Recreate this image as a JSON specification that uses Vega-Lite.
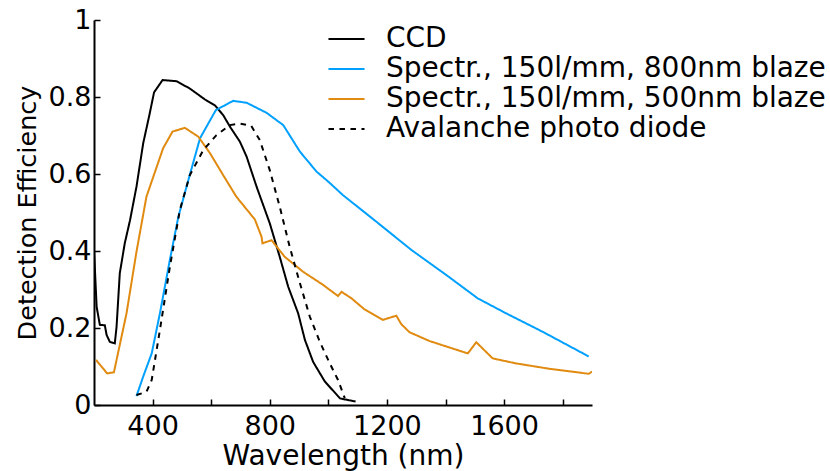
{
  "$schema": "https://vega.github.io/schema/vega-lite/v6.json",
  "width": 498,
  "height": 385,
  "autosize": "none",
  "padding": {"left": 94, "top": 20, "right": 238, "bottom": 66},
  "background": "white",
  "config": {
    "view": {"stroke": null},
    "font": "DejaVu Sans",
    "axis": {"grid": false, "domainColor": "black", "domainWidth": 2, "tickColor": "black", "tickWidth": 1.5, "tickSize": -6, "labelFontSize": 27, "labelColor": "black", "titleFontSize": 27, "titleFontWeight": "normal", "titleColor": "black", "labelFont": "DejaVu Sans", "titleFont": "DejaVu Sans"}
  },
  "data": {"values": [
    {"s": "CCD", "wl": 200, "v": 0.403},
    {"s": "CCD", "wl": 209, "v": 0.255},
    {"s": "CCD", "wl": 220, "v": 0.208},
    {"s": "CCD", "wl": 237, "v": 0.207},
    {"s": "CCD", "wl": 243, "v": 0.182},
    {"s": "CCD", "wl": 254, "v": 0.164},
    {"s": "CCD", "wl": 271, "v": 0.160},
    {"s": "CCD", "wl": 277, "v": 0.203},
    {"s": "CCD", "wl": 288, "v": 0.342},
    {"s": "CCD", "wl": 305, "v": 0.42},
    {"s": "CCD", "wl": 323, "v": 0.48},
    {"s": "CCD", "wl": 345, "v": 0.567},
    {"s": "CCD", "wl": 368, "v": 0.68},
    {"s": "CCD", "wl": 389, "v": 0.753},
    {"s": "CCD", "wl": 405, "v": 0.812},
    {"s": "CCD", "wl": 434, "v": 0.844},
    {"s": "CCD", "wl": 482, "v": 0.841},
    {"s": "CCD", "wl": 527, "v": 0.822},
    {"s": "CCD", "wl": 578, "v": 0.794},
    {"s": "CCD", "wl": 613, "v": 0.778},
    {"s": "CCD", "wl": 641, "v": 0.753},
    {"s": "CCD", "wl": 664, "v": 0.723},
    {"s": "CCD", "wl": 698, "v": 0.684},
    {"s": "CCD", "wl": 721, "v": 0.645},
    {"s": "CCD", "wl": 755, "v": 0.567},
    {"s": "CCD", "wl": 800, "v": 0.472},
    {"s": "CCD", "wl": 834, "v": 0.385},
    {"s": "CCD", "wl": 863, "v": 0.307},
    {"s": "CCD", "wl": 897, "v": 0.238},
    {"s": "CCD", "wl": 920, "v": 0.169},
    {"s": "CCD", "wl": 948, "v": 0.112},
    {"s": "CCD", "wl": 988, "v": 0.061},
    {"s": "CCD", "wl": 1040, "v": 0.017},
    {"s": "CCD", "wl": 1093, "v": 0.009},

    {"s": "Spectr., 150l/mm, 800nm blaze", "wl": 345, "v": 0.023},
    {"s": "Spectr., 150l/mm, 800nm blaze", "wl": 368, "v": 0.074},
    {"s": "Spectr., 150l/mm, 800nm blaze", "wl": 397, "v": 0.134},
    {"s": "Spectr., 150l/mm, 800nm blaze", "wl": 425, "v": 0.238},
    {"s": "Spectr., 150l/mm, 800nm blaze", "wl": 459, "v": 0.377},
    {"s": "Spectr., 150l/mm, 800nm blaze", "wl": 488, "v": 0.489},
    {"s": "Spectr., 150l/mm, 800nm blaze", "wl": 522, "v": 0.584},
    {"s": "Spectr., 150l/mm, 800nm blaze", "wl": 562, "v": 0.693},
    {"s": "Spectr., 150l/mm, 800nm blaze", "wl": 616, "v": 0.766},
    {"s": "Spectr., 150l/mm, 800nm blaze", "wl": 675, "v": 0.79},
    {"s": "Spectr., 150l/mm, 800nm blaze", "wl": 721, "v": 0.785},
    {"s": "Spectr., 150l/mm, 800nm blaze", "wl": 789, "v": 0.759},
    {"s": "Spectr., 150l/mm, 800nm blaze", "wl": 846, "v": 0.727},
    {"s": "Spectr., 150l/mm, 800nm blaze", "wl": 903, "v": 0.658},
    {"s": "Spectr., 150l/mm, 800nm blaze", "wl": 960, "v": 0.606},
    {"s": "Spectr., 150l/mm, 800nm blaze", "wl": 1000, "v": 0.58},
    {"s": "Spectr., 150l/mm, 800nm blaze", "wl": 1050, "v": 0.545},
    {"s": "Spectr., 150l/mm, 800nm blaze", "wl": 1164, "v": 0.476},
    {"s": "Spectr., 150l/mm, 800nm blaze", "wl": 1283, "v": 0.403},
    {"s": "Spectr., 150l/mm, 800nm blaze", "wl": 1402, "v": 0.338},
    {"s": "Spectr., 150l/mm, 800nm blaze", "wl": 1510, "v": 0.277},
    {"s": "Spectr., 150l/mm, 800nm blaze", "wl": 1607, "v": 0.238},
    {"s": "Spectr., 150l/mm, 800nm blaze", "wl": 1732, "v": 0.19},
    {"s": "Spectr., 150l/mm, 800nm blaze", "wl": 1889, "v": 0.126},

    {"s": "Spectr., 150l/mm, 500nm blaze", "wl": 207, "v": 0.117},
    {"s": "Spectr., 150l/mm, 500nm blaze", "wl": 245, "v": 0.082},
    {"s": "Spectr., 150l/mm, 500nm blaze", "wl": 268, "v": 0.085},
    {"s": "Spectr., 150l/mm, 500nm blaze", "wl": 311, "v": 0.238},
    {"s": "Spectr., 150l/mm, 500nm blaze", "wl": 345, "v": 0.398},
    {"s": "Spectr., 150l/mm, 500nm blaze", "wl": 379, "v": 0.541},
    {"s": "Spectr., 150l/mm, 500nm blaze", "wl": 436, "v": 0.667},
    {"s": "Spectr., 150l/mm, 500nm blaze", "wl": 468, "v": 0.71},
    {"s": "Spectr., 150l/mm, 500nm blaze", "wl": 510, "v": 0.72},
    {"s": "Spectr., 150l/mm, 500nm blaze", "wl": 556, "v": 0.697},
    {"s": "Spectr., 150l/mm, 500nm blaze", "wl": 596, "v": 0.654},
    {"s": "Spectr., 150l/mm, 500nm blaze", "wl": 641, "v": 0.597},
    {"s": "Spectr., 150l/mm, 500nm blaze", "wl": 686, "v": 0.541},
    {"s": "Spectr., 150l/mm, 500nm blaze", "wl": 749, "v": 0.482},
    {"s": "Spectr., 150l/mm, 500nm blaze", "wl": 775, "v": 0.42},
    {"s": "Spectr., 150l/mm, 500nm blaze", "wl": 772, "v": 0.437},
    {"s": "Spectr., 150l/mm, 500nm blaze", "wl": 806, "v": 0.428},
    {"s": "Spectr., 150l/mm, 500nm blaze", "wl": 851, "v": 0.385},
    {"s": "Spectr., 150l/mm, 500nm blaze", "wl": 914, "v": 0.346},
    {"s": "Spectr., 150l/mm, 500nm blaze", "wl": 982, "v": 0.312},
    {"s": "Spectr., 150l/mm, 500nm blaze", "wl": 1033, "v": 0.283},
    {"s": "Spectr., 150l/mm, 500nm blaze", "wl": 1045, "v": 0.294},
    {"s": "Spectr., 150l/mm, 500nm blaze", "wl": 1079, "v": 0.277},
    {"s": "Spectr., 150l/mm, 500nm blaze", "wl": 1124, "v": 0.248},
    {"s": "Spectr., 150l/mm, 500nm blaze", "wl": 1186, "v": 0.221},
    {"s": "Spectr., 150l/mm, 500nm blaze", "wl": 1232, "v": 0.232},
    {"s": "Spectr., 150l/mm, 500nm blaze", "wl": 1249, "v": 0.21},
    {"s": "Spectr., 150l/mm, 500nm blaze", "wl": 1277, "v": 0.189},
    {"s": "Spectr., 150l/mm, 500nm blaze", "wl": 1346, "v": 0.166},
    {"s": "Spectr., 150l/mm, 500nm blaze", "wl": 1476, "v": 0.134},
    {"s": "Spectr., 150l/mm, 500nm blaze", "wl": 1505, "v": 0.163},
    {"s": "Spectr., 150l/mm, 500nm blaze", "wl": 1561, "v": 0.121},
    {"s": "Spectr., 150l/mm, 500nm blaze", "wl": 1641, "v": 0.108},
    {"s": "Spectr., 150l/mm, 500nm blaze", "wl": 1755, "v": 0.094},
    {"s": "Spectr., 150l/mm, 500nm blaze", "wl": 1889, "v": 0.081},
    {"s": "Spectr., 150l/mm, 500nm blaze", "wl": 1900, "v": 0.087},

    {"s": "Avalanche photo diode", "wl": 345, "v": 0.026},
    {"s": "Avalanche photo diode", "wl": 379, "v": 0.034},
    {"s": "Avalanche photo diode", "wl": 397, "v": 0.065},
    {"s": "Avalanche photo diode", "wl": 425, "v": 0.195},
    {"s": "Avalanche photo diode", "wl": 459, "v": 0.359},
    {"s": "Avalanche photo diode", "wl": 493, "v": 0.506},
    {"s": "Avalanche photo diode", "wl": 527, "v": 0.597},
    {"s": "Avalanche photo diode", "wl": 573, "v": 0.662},
    {"s": "Avalanche photo diode", "wl": 618, "v": 0.701},
    {"s": "Avalanche photo diode", "wl": 664, "v": 0.727},
    {"s": "Avalanche photo diode", "wl": 698, "v": 0.731},
    {"s": "Avalanche photo diode", "wl": 737, "v": 0.725},
    {"s": "Avalanche photo diode", "wl": 766, "v": 0.688},
    {"s": "Avalanche photo diode", "wl": 800, "v": 0.61},
    {"s": "Avalanche photo diode", "wl": 834, "v": 0.515},
    {"s": "Avalanche photo diode", "wl": 868, "v": 0.411},
    {"s": "Avalanche photo diode", "wl": 903, "v": 0.316},
    {"s": "Avalanche photo diode", "wl": 937, "v": 0.229},
    {"s": "Avalanche photo diode", "wl": 971, "v": 0.164},
    {"s": "Avalanche photo diode", "wl": 1005, "v": 0.108},
    {"s": "Avalanche photo diode", "wl": 1033, "v": 0.065},
    {"s": "Avalanche photo diode", "wl": 1056, "v": 0.018}
  ]},
  "mark": {"type": "line", "strokeWidth": 2, "clip": true},
  "encoding": {
    "x": {"field": "wl", "type": "quantitative", "title": "Wavelength (nm)",
      "scale": {"domain": [200, 1900], "nice": false, "zero": false},
      "axis": {"values": [400, 600, 800, 1000, 1200, 1400, 1600, 1800], "labelExpr": "datum.value % 400 == 0 ? format(datum.value, 'd') : ''", "titleFontSize": 28, "titlePadding": 3, "labelPadding": 14, "labelFlush": false, "labelOverlap": false}},
    "y": {"field": "v", "type": "quantitative", "title": "Detection Efficiency",
      "scale": {"domain": [0, 1], "nice": false},
      "axis": {"values": [0, 0.2, 0.4, 0.6, 0.8, 1], "format": "~g", "titleFontSize": 25.5, "titlePadding": 8, "labelPadding": 9, "labelFlush": false, "labelOverlap": false}},
    "color": {"field": "s", "type": "nominal", "sort": null,
      "scale": {"domain": ["CCD", "Spectr., 150l/mm, 800nm blaze", "Spectr., 150l/mm, 500nm blaze", "Avalanche photo diode"],
        "range": ["#000000", "#00a0ff", "#e08a10", "#000000"]},
      "legend": {"title": null, "orient": "none", "legendX": 233, "legendY": 4, "symbolType": "stroke", "symbolSize": 1300, "symbolStrokeWidth": 2, "labelFontSize": 28, "labelColor": "black", "labelFont": "DejaVu Sans", "labelLimit": 0, "rowPadding": 0, "clipHeight": 30, "labelOffset": 20, "padding": 0}},
    "strokeDash": {"field": "s", "type": "nominal", "sort": null,
      "scale": {"domain": ["CCD", "Spectr., 150l/mm, 800nm blaze", "Spectr., 150l/mm, 500nm blaze", "Avalanche photo diode"],
        "range": [[1, 0], [1, 0], [1, 0], [5.5, 5.5]]},
      "legend": null}
  }
}
